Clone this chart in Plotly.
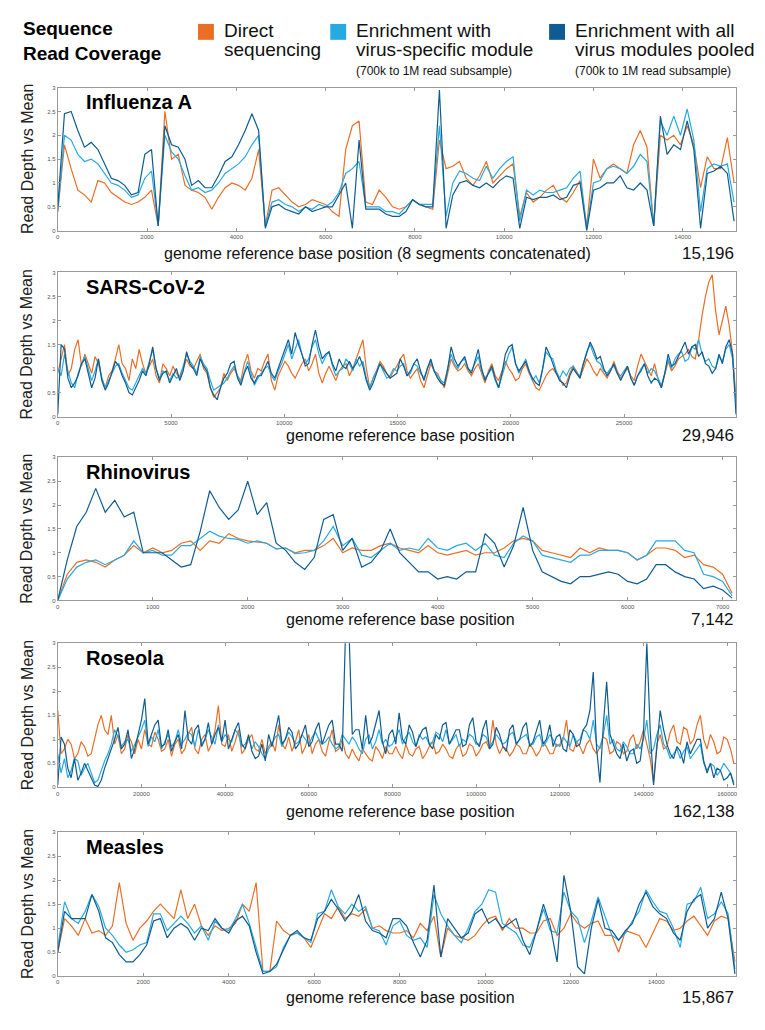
import numpy as np
import plotly.graph_objects as go

# colours of the three library preps
direct_color = "#EA6F26"
specific_color = "#27AAE1"
pooled_color = "#0E5C91"

# ---- Influenza A (8 segments concatenated), one value every 150 bp
flu_step = 150
flu_direct = [0.4, 1.8, 1.3, 0.85, 0.75, 0.6, 1.05, 1.0, 0.8, 0.7,
              0.6, 0.55, 0.6, 0.7, 0.85, 0.1, 2.5, 1.5, 1.6, 0.95,
              0.85, 0.8, 0.7, 0.45, 0.7, 0.9, 1.0, 0.95, 0.85, 1.1,
              1.7, 0.1, 0.85, 0.9, 0.75, 0.6, 0.5, 0.55, 0.65, 0.6,
              0.55, 0.4, 0.3, 1.7, 2.2, 2.3, 0.6, 0.55, 0.85, 0.7,
              0.5, 0.45, 0.5, 0.65, 0.55, 0.5, 0.45, 1.9, 1.3, 1.35,
              1.45, 1.1, 0.95, 1.15, 1.45, 1.0, 1.15, 1.3, 1.4, 0.3,
              0.8, 0.6, 0.7, 0.85, 0.95, 0.7, 0.6, 0.8, 1.05, 0.1,
              1.5, 1.1, 1.3, 1.4, 1.3, 1.2, 1.8, 2.1, 1.75, 0.1,
              2.0, 1.9, 2.0, 1.8, 2.2, 1.8, 0.9, 1.55, 1.3, 1.3,
              1.95, 1.0]
flu_specific = [0.4, 2.0, 1.9, 1.6, 1.45, 1.5, 1.4, 1.2, 1.0, 0.95,
                0.85, 0.7, 0.75, 1.1, 1.25, 0.1, 2.0, 1.65, 1.5, 1.15,
                0.85, 0.9, 0.8, 0.85, 1.0, 1.2, 1.3, 1.4, 1.55, 1.8,
                2.0, 0.1, 0.6, 0.65, 0.55, 0.5, 0.4, 0.5, 0.45, 0.55,
                0.5, 0.6, 0.8, 1.2, 1.3, 1.45, 0.5, 0.5, 0.5, 0.4,
                0.4, 0.35, 0.5, 0.65, 0.55, 0.55, 0.55, 2.2, 0.3, 1.0,
                1.25, 1.2, 1.1, 1.05, 1.35, 1.1, 1.3, 1.45, 1.55, 0.2,
                0.85, 0.75, 0.85, 0.8, 0.8, 0.85, 0.9, 1.1, 1.25, 0.05,
                1.0, 1.05, 1.3, 1.35, 1.3, 1.2, 1.35, 1.6, 1.45, 0.1,
                2.3, 2.0, 2.4, 2.0, 2.55, 1.9, 0.4, 1.3, 1.4, 1.35,
                1.4, 0.6]
flu_pooled = [0.5, 2.45, 2.5, 2.1, 1.75, 1.85, 1.7, 1.4, 1.1, 1.05,
              0.95, 0.75, 0.8, 1.6, 1.7, 0.1, 2.2, 1.8, 1.75, 1.5,
              0.95, 1.05, 0.9, 0.9, 1.15, 1.45, 1.55, 1.8, 2.1, 2.45,
              2.1, 0.05, 0.5, 0.55, 0.45, 0.4, 0.35, 0.5, 0.4, 0.45,
              0.5, 0.5, 0.75, 1.0, 0.05, 1.9, 0.45, 0.45, 0.45, 0.35,
              0.3, 0.3, 0.4, 0.65, 0.55, 0.5, 0.5, 2.95, 0.05, 0.75,
              1.0, 1.05, 0.95, 0.9, 1.0, 0.9, 1.05, 1.15, 1.1, 0.05,
              0.7, 0.65, 0.7, 0.7, 0.75, 0.65, 0.7, 0.95, 1.0, 0.0,
              0.85, 0.9, 1.0, 1.0, 1.15, 0.9, 0.85, 1.0, 0.85, 0.1,
              2.4, 1.6, 1.8, 1.7, 2.3, 1.7, 0.05, 1.2, 1.25, 1.35,
              1.2, 0.2]

# ---- SARS-CoV-2, one value every 149.7 bp
sars_step = 149.7
sars_direct = [0.9, 1.2, 1.5, 0.85, 1.0, 1.4, 1.6, 1.05, 1.3, 1.1, 0.9, 1.25, 1.1, 0.8, 0.6, 0.85, 0.95, 1.2, 1.5, 1.1,
               1.0, 0.75, 1.2, 1.0, 1.4, 1.1, 0.9, 1.05, 1.2, 0.85, 0.7, 1.1, 1.0, 0.85, 1.05, 0.9, 0.8, 1.0, 1.2, 1.05,
               1.0, 1.15, 1.3, 1.0, 0.9, 0.6, 0.4, 0.5, 0.6, 0.9, 0.75, 0.9, 1.0, 0.85, 0.75, 1.1, 1.3, 0.95, 0.8, 1.0,
               0.95, 1.15, 1.3, 0.75, 0.55, 0.85, 1.0, 1.15, 1.05, 0.9, 0.8, 0.95, 1.1, 1.2, 0.95, 1.1, 1.3, 0.9, 0.7, 0.9,
               1.05, 0.9, 0.75, 0.95, 1.05, 1.1, 0.85, 1.0, 1.2, 1.4, 1.6, 1.0, 0.6, 0.8, 0.95, 1.15, 1.05, 0.9, 0.8, 0.95,
               1.05, 1.2, 1.3, 0.95, 0.8, 0.9, 1.0, 0.75, 0.6, 0.85, 1.1, 0.95, 0.9, 0.75, 0.6, 0.9, 1.2, 1.05, 0.95, 1.0,
               1.1, 0.95, 0.85, 1.0, 1.1, 0.9, 0.7, 0.95, 1.1, 0.85, 0.75, 0.95, 1.15, 1.0, 0.9, 0.75, 0.8, 1.0, 1.1, 0.9,
               0.75, 0.6, 0.55, 0.7, 0.85, 0.95, 1.0, 0.9, 0.8, 0.65, 0.7, 0.9, 1.05, 0.95, 0.8, 1.0, 1.2, 1.1, 0.95, 0.85,
               1.0, 0.9, 0.8, 0.95, 1.15, 0.95, 0.8, 0.9, 1.0, 0.85, 0.75, 1.05, 1.3, 1.15, 1.0, 0.85, 1.1, 0.8, 0.6, 0.9,
               1.15, 0.95, 1.05, 1.2, 1.25, 1.3, 1.4, 1.25, 1.2, 1.6, 2.1, 2.5, 2.8, 2.95, 2.2, 1.7, 2.0, 2.3, 1.9, 1.3,
               0.4]
sars_specific = [1.0, 0.85, 1.3, 0.95, 0.7, 0.6, 0.9, 1.1, 1.25, 1.0, 0.75, 0.95, 1.2, 0.8, 0.6, 0.75, 0.9, 1.05, 1.1, 0.9,
                 0.75, 0.6, 0.55, 0.7, 0.85, 1.0, 0.9, 1.15, 1.4, 1.0, 0.8, 0.95, 0.9, 0.75, 0.9, 0.8, 0.85, 1.05, 1.3, 1.15,
                 1.05, 0.9, 1.25, 1.1, 1.0, 0.75, 0.55, 0.6, 0.65, 0.7, 0.8, 0.95, 1.05, 0.85, 0.7, 0.95, 1.15, 0.9, 0.65, 0.8,
                 0.9, 1.0, 1.05, 0.85, 0.75, 0.95, 1.1, 1.3, 1.5, 1.2, 1.4, 1.6, 1.3, 1.1, 1.2, 1.45, 1.6, 1.3, 1.1, 1.25,
                 1.35, 1.05, 0.85, 0.95, 1.0, 1.2, 1.1, 0.95, 1.2, 1.05, 1.15, 0.8, 0.6, 0.8, 0.95, 1.1, 0.95, 0.8, 0.85, 1.0,
                 0.95, 1.05, 1.1, 0.85, 0.9, 1.1, 1.05, 0.9, 0.8, 1.0, 1.15, 0.95, 0.85, 0.75, 0.7, 1.0, 1.3, 1.1, 1.0, 1.15,
                 1.2, 1.0, 0.95, 1.1, 1.25, 0.95, 0.8, 0.9, 1.0, 0.75, 0.6, 0.85, 1.1, 1.3, 1.45, 1.1, 0.9, 1.05, 1.2, 0.95,
                 0.75, 0.85, 0.7, 1.0, 1.35, 1.25, 1.2, 0.95, 0.8, 0.95, 0.85, 1.0, 1.05, 0.9, 0.85, 1.1, 1.35, 1.5, 1.3, 1.15,
                 1.1, 0.95, 0.9, 1.0, 1.05, 0.9, 0.85, 0.95, 1.05, 0.8, 0.65, 0.85, 1.0, 1.1, 0.9, 1.0, 0.95, 0.8, 0.65, 0.9,
                 1.2, 1.0, 1.2, 1.3, 1.35, 1.15, 1.2, 1.45, 1.4, 1.6, 1.3, 1.15, 1.2, 1.05, 1.0, 1.25, 1.15, 1.4, 1.5, 1.2,
                 0.3]
sars_pooled = [0.05, 1.5, 1.4, 0.8, 0.6, 0.7, 0.85, 1.1, 1.2, 0.9, 0.6, 0.8, 1.2, 0.75, 0.55, 0.7, 0.95, 1.15, 1.05, 0.85,
               0.7, 0.5, 0.45, 0.6, 0.75, 0.95, 0.85, 1.1, 1.45, 1.0, 0.75, 0.9, 0.95, 0.7, 0.85, 1.0, 0.75, 0.95, 1.35, 1.1,
               1.0, 0.85, 1.2, 1.05, 0.95, 0.6, 0.45, 0.35, 0.6, 0.8, 0.9, 1.1, 1.15, 0.8, 0.65, 0.9, 1.05, 0.8, 0.7, 0.85,
               0.85, 1.0, 1.15, 0.9, 0.8, 1.0, 1.2, 1.4, 1.6, 1.3, 1.75, 1.5, 1.3, 1.05, 1.1, 1.5, 1.8, 1.45, 1.2, 1.3,
               1.35, 1.1, 0.95, 1.2, 1.05, 1.0, 1.15, 1.0, 1.1, 1.25, 1.05, 0.75, 0.55, 0.7, 0.9, 1.1, 1.0, 0.9, 0.8, 0.85,
               0.9, 1.2, 1.05, 0.85, 0.95, 1.1, 1.2, 0.95, 0.75, 1.0, 1.2, 0.95, 0.8, 0.7, 0.65, 1.0, 1.45, 1.2, 1.05, 1.15,
               1.25, 1.0, 0.9, 1.15, 1.4, 1.0, 0.75, 0.9, 1.05, 0.8, 0.6, 0.9, 1.3, 1.45, 1.5, 1.1, 0.95, 1.05, 1.15, 0.95,
               0.8, 0.7, 0.65, 1.0, 1.45, 1.3, 1.1, 0.9, 0.75, 0.7, 0.6, 0.85, 1.0, 0.9, 0.8, 1.1, 1.35, 1.55, 1.4, 1.2,
               1.25, 1.0, 0.85, 0.95, 1.1, 0.9, 0.75, 0.9, 1.05, 0.8, 0.65, 0.85, 0.95, 1.1, 0.85, 0.7, 0.8, 0.75, 0.6, 0.9,
               1.3, 1.05, 1.1, 1.25, 1.4, 1.55, 1.3, 1.45, 1.5, 1.25, 1.35, 1.1, 1.05, 0.9, 1.0, 1.3, 1.1, 1.45, 1.6, 1.3,
               0.05]

# ---- Rhinovirus, one value every 100 bp
rhino_step = 100
rhino_direct = [0.0, 0.55, 0.8, 0.85, 0.8, 0.7, 0.85, 0.95, 1.15, 1.0,
                1.1, 1.0, 1.05, 1.2, 1.25, 1.05, 1.25, 1.2, 1.4, 1.3,
                1.25, 1.22, 1.2, 1.08, 1.1, 1.0, 1.05, 1.05, 1.15, 1.3,
                1.0, 1.1, 1.05, 1.05, 1.15, 1.2, 1.1, 1.05, 1.0, 1.15,
                1.0, 0.95, 1.0, 1.05, 0.95, 1.0, 1.0, 1.1, 1.25, 1.3,
                1.25, 1.05, 1.0, 0.95, 0.9, 1.1, 1.0, 1.1, 1.05, 1.05,
                1.0, 0.85, 0.95, 1.1, 1.1, 1.05, 0.9, 0.95, 0.75, 0.7,
                0.55, 0.15]
rhino_specific = [0.0, 0.45, 0.7, 0.8, 0.85, 0.75, 0.85, 0.95, 1.25, 1.0,
                  1.05, 0.95, 0.95, 1.15, 1.15, 1.3, 1.45, 1.35, 1.3, 1.28,
                  1.2, 1.25, 1.2, 1.08, 1.1, 0.98, 1.0, 1.05, 1.25, 1.55,
                  1.15, 1.3, 0.95, 0.9, 1.05, 1.2, 1.05, 1.1, 1.05, 1.3,
                  1.1, 1.05, 1.15, 1.2, 1.05, 1.2, 0.95, 0.9, 1.2, 1.35,
                  1.25, 0.95, 0.9, 0.85, 0.8, 0.95, 0.95, 1.05, 1.05, 1.05,
                  1.0, 0.85, 0.95, 1.25, 1.25, 1.25, 1.05, 1.0, 0.55, 0.5,
                  0.4, 0.1]
rhino_pooled = [0.0, 0.85, 1.55, 1.85, 2.35, 1.85, 2.1, 1.75, 1.85, 1.0,
                1.0, 1.0, 0.85, 0.7, 0.75, 1.45, 2.3, 1.95, 1.7, 1.9,
                2.5, 1.8, 2.05, 1.2, 1.05, 0.8, 0.65, 0.9, 1.7, 1.8,
                1.05, 1.3, 0.7, 0.8, 1.05, 1.5, 1.0, 0.8, 0.6, 0.6,
                0.45, 0.5, 0.45, 0.6, 0.6, 1.4, 1.2, 0.7, 1.15, 1.95,
                1.05, 0.6, 0.5, 0.4, 0.35, 0.5, 0.5, 0.55, 0.6, 0.55,
                0.4, 0.35, 0.45, 0.75, 0.75, 0.6, 0.5, 0.45, 0.25, 0.3,
                0.22, 0.05]

# ---- Roseola (HHV-6), one value every 800 bp
roseola_step = 800
roseola_direct = [1.6, 0.7, 0.8, 1.0, 0.9, 0.6, 0.7, 0.95, 0.85, 0.65, 0.7, 1.0, 1.3, 1.5, 1.2, 1.1, 1.5, 0.9, 1.1, 0.7,
                  0.8, 1.1, 0.95, 0.7, 1.0, 0.8, 1.2, 0.9, 0.85, 1.15, 1.0, 0.75, 0.8, 1.0, 0.65, 0.9, 1.0, 0.7, 0.8, 1.1,
                  1.25, 0.8, 0.7, 1.0, 1.1, 0.75, 0.9, 1.2, 1.7, 0.9, 0.85, 1.1, 0.75, 0.95, 1.2, 0.7, 0.8, 1.0, 1.1, 0.8,
                  0.75, 1.0, 0.7, 0.85, 0.95, 0.75, 1.3, 0.9, 0.8, 1.05, 0.75, 0.95, 1.2, 0.7, 0.85, 1.1, 0.7, 0.9, 1.0, 0.75,
                  0.65, 0.95, 1.2, 0.75, 0.8, 1.0, 0.7, 0.6, 0.8, 0.65, 0.55, 0.8, 0.7, 0.6, 0.55, 0.85, 0.75, 0.6, 0.85, 0.7,
                  0.7, 0.85, 0.7, 0.6, 0.9, 0.7, 0.65, 0.8, 0.85, 0.6, 0.7, 0.85, 0.95, 0.7, 0.75, 0.9, 0.8, 0.65, 0.6, 0.8,
                  0.9, 0.65, 0.7, 0.9, 0.85, 0.65, 0.75, 0.9, 0.95, 0.8, 1.4, 0.9, 0.7, 0.85, 0.8, 0.65, 0.75, 0.9, 0.85, 0.7,
                  0.7, 0.9, 0.8, 0.65, 0.75, 0.95, 0.85, 0.7, 0.7, 0.9, 0.85, 1.0, 1.4, 0.8, 0.75, 0.95, 0.85, 0.7, 0.9, 1.0,
                  0.8, 0.7, 0.85, 1.05, 1.0, 0.7, 0.75, 0.95, 0.9, 0.7, 0.75, 1.0, 1.1, 0.8, 0.95, 1.2, 0.9, 0.6, 0.1, 0.9,
                  1.1, 0.8, 0.85, 1.15, 1.3, 0.95, 0.9, 1.25, 1.2, 0.9, 1.0, 1.3, 1.5, 1.0, 0.8, 1.1, 0.95, 0.7, 0.75, 1.05,
                  1.0, 0.8, 0.5]
roseola_specific = [0.7, 0.3, 0.6, 0.2, 0.35, 0.6, 0.55, 0.25, 0.4, 0.5, 0.3, 0.1, 0.15, 0.35, 0.55, 0.7, 0.9, 1.2, 1.05, 0.85,
                    0.95, 1.0, 0.75, 0.9, 1.05, 1.2, 1.4, 0.85, 1.05, 0.95, 1.2, 0.8, 0.95, 1.1, 0.85, 0.95, 1.2, 0.9, 1.0, 1.15,
                    1.1, 0.85, 1.2, 0.9, 1.0, 1.2, 1.05, 0.9, 1.3, 0.95, 1.1, 1.0, 0.95, 1.2, 1.1, 0.85, 0.9, 1.05, 0.8, 0.95,
                    0.85, 0.7, 0.6, 0.8, 0.9, 1.05, 1.1, 0.85, 1.0, 1.15, 1.05, 0.9, 0.95, 1.1, 1.0, 0.9, 1.05, 1.15, 1.0, 0.9,
                    0.95, 1.05, 0.9, 0.8, 0.85, 1.1, 1.0, 0.9, 1.05, 0.95, 0.8, 0.7, 1.0, 1.1, 0.8, 0.95, 1.2, 0.9, 1.0, 0.85,
                    0.9, 1.05, 1.2, 0.9, 1.05, 1.15, 0.95, 0.85, 1.1, 1.0, 1.05, 0.9, 0.95, 1.15, 1.1, 0.95, 1.2, 0.9, 1.0, 1.1,
                    0.85, 1.0, 0.95, 1.1, 1.05, 0.9, 0.9, 1.1, 1.05, 0.85, 0.95, 1.1, 1.0, 0.9, 0.95, 1.1, 1.15, 0.9, 1.0, 1.05,
                    1.1, 0.9, 0.9, 1.05, 1.1, 0.85, 0.95, 1.1, 1.0, 0.85, 0.9, 1.05, 0.95, 0.85, 1.1, 0.95, 1.0, 1.2, 1.15, 1.0,
                    1.4, 0.9, 0.8, 1.1, 1.5, 0.9, 1.0, 0.8, 0.75, 0.95, 0.85, 0.7, 0.7, 0.9, 0.8, 1.0, 1.4, 0.7, 0.8, 1.1,
                    1.3, 0.9, 0.8, 0.6, 0.7, 0.8, 0.6, 0.75, 0.85, 0.6, 0.7, 0.8, 0.9, 0.5, 0.35, 0.5, 0.45, 0.25, 0.35, 0.5,
                    0.4, 0.3, 0.1]
roseola_pooled = [0.05, 1.05, 0.9, 0.4, 0.2, 0.6, 0.15, 0.3, 0.5, 0.35, 0.2, 0.05, 0.02, 0.15, 0.4, 0.6, 0.8, 1.0, 1.25, 0.8,
                  0.9, 1.2, 0.6, 0.8, 1.1, 1.4, 1.85, 0.9, 1.1, 1.3, 1.4, 0.85, 0.9, 1.2, 0.75, 0.95, 1.1, 0.8, 1.6, 1.0,
                  0.9, 1.2, 1.3, 0.85, 1.0, 1.35, 0.9, 1.1, 1.25, 0.95, 1.4, 0.8, 1.0, 1.2, 1.35, 0.9, 0.8, 1.1, 0.75, 0.6,
                  0.65, 0.9, 0.55, 1.1, 0.85, 1.2, 1.5, 0.9, 1.0, 1.25, 1.15, 0.8, 0.9, 1.1, 1.3, 0.85, 0.95, 1.2, 1.35, 0.9,
                  1.1, 1.3, 1.4, 0.9, 0.9, 0.75, 3.3, 3.3, 1.1, 1.2, 1.2, 0.8, 1.5, 0.9, 1.05, 1.3, 1.6, 0.95, 0.7, 1.1,
                  1.2, 0.9, 1.55, 1.0, 0.9, 1.3, 1.15, 0.85, 1.05, 1.2, 1.25, 0.9, 0.8, 1.1, 1.0, 1.3, 1.35, 0.9, 1.05, 1.2,
                  1.2, 0.85, 0.9, 1.3, 1.45, 0.95, 0.85, 1.2, 1.4, 0.8, 0.9, 1.25, 1.1, 0.85, 0.75, 1.2, 1.3, 0.9, 1.0, 1.25,
                  1.35, 0.85, 0.95, 1.2, 1.4, 0.9, 1.0, 1.3, 0.85, 1.05, 1.1, 0.8, 0.75, 1.2, 1.1, 0.85, 0.9, 1.2, 1.3, 1.6,
                  2.4, 0.8, 0.1, 1.3, 2.2, 1.1, 0.9, 0.7, 0.6, 0.9, 0.55, 0.75, 0.8, 0.5, 0.55, 1.1, 3.0, 1.2, 0.05, 0.9,
                  1.6, 1.2, 0.9, 0.7, 0.6, 0.85, 0.75, 0.5, 0.95, 0.7, 0.85, 1.0, 1.0, 0.55, 0.3, 0.5, 0.2, 0.4, 0.35, 0.15,
                  0.2, 0.3, 0.05]

# ---- Measles, one value every 160 bp
measles_step = 160
measles_direct = [0.5, 1.2, 1.05, 0.85, 1.2, 0.9, 0.95, 0.85, 1.05, 1.95,
                  1.1, 0.75, 1.0, 1.15, 1.35, 1.5, 1.35, 1.2, 1.8, 1.2,
                  1.5, 1.05, 0.85, 1.05, 0.95, 1.0, 1.1, 1.5, 1.35, 1.95,
                  0.1, 0.1, 1.15, 0.95, 0.85, 0.9, 0.8, 0.6, 0.95, 1.3,
                  1.2, 1.45, 1.2, 1.3, 1.25, 1.4, 1.0, 1.05, 0.95, 0.9,
                  0.9, 0.95, 0.8, 1.1, 0.95, 1.25, 0.4, 1.0, 0.85, 0.8,
                  0.75, 0.85, 1.05, 1.2, 1.25, 0.95, 1.2, 1.0, 1.0, 0.9,
                  0.9, 1.15, 1.2, 0.85, 1.0, 1.3, 1.1, 1.0, 1.1, 1.15,
                  0.85, 0.85, 0.5, 0.95, 0.9, 0.85, 0.6, 0.9, 1.2, 1.15,
                  0.95, 1.0, 1.15, 1.25, 1.05, 0.85, 1.15, 1.25, 1.2, 0.3]
measles_specific = [0.6, 1.55, 1.2, 1.1, 1.35, 1.7, 1.45, 1.0, 0.85, 0.65,
                    0.5, 0.55, 0.65, 0.7, 1.3, 1.3, 0.95, 1.1, 1.25, 1.1,
                    0.9, 1.05, 0.75, 1.15, 1.0, 0.95, 1.2, 1.5, 1.1, 0.6,
                    0.1, 0.1, 0.2, 0.6, 0.85, 0.9, 0.8, 0.7, 1.3, 1.35,
                    1.8, 1.45, 1.3, 1.5, 1.35, 1.45, 1.0, 0.95, 0.65, 1.05,
                    1.15, 0.85, 0.75, 0.8, 0.6, 1.7, 1.3, 1.05, 0.85, 0.7,
                    1.0, 1.35, 1.5, 1.8, 1.75, 1.1, 1.0, 0.9, 0.65, 0.6,
                    0.95, 1.4, 0.95, 0.9, 1.75, 1.35, 1.2, 0.7, 1.15, 1.65,
                    1.25, 0.85, 0.75, 0.9, 1.15, 1.35, 1.8, 1.55, 1.35, 1.3,
                    1.0, 0.6, 1.5, 1.55, 1.85, 1.2, 1.3, 1.55, 1.3, 0.15]
measles_pooled = [0.5, 1.35, 1.2, 1.2, 1.2, 1.7, 1.35, 0.8, 0.7, 0.45,
                  0.3, 0.3, 0.45, 0.65, 1.15, 1.2, 0.8, 1.0, 1.1, 1.0,
                  0.75, 1.0, 0.95, 1.2, 1.0, 0.9, 1.15, 1.25, 1.05, 0.5,
                  0.05, 0.1, 0.25, 0.55, 0.85, 0.95, 0.8, 0.75, 1.2, 1.35,
                  1.6, 1.4, 1.15, 1.35, 1.7, 1.15, 0.95, 0.9, 0.8, 1.2,
                  1.2, 1.05, 0.7, 0.4, 0.75, 1.9, 0.4, 1.2, 1.0, 0.8,
                  0.9, 1.3, 1.4, 1.1, 1.2, 1.0, 1.1, 1.2, 0.75, 0.45,
                  0.95, 1.5, 1.05, 0.3, 2.1, 1.35, 0.2, 0.05, 1.0, 1.6,
                  1.0, 0.95, 0.75, 0.95, 1.1, 1.5, 1.75, 1.45, 1.3, 1.2,
                  0.9, 0.75, 1.35, 1.6, 1.7, 1.0, 1.2, 1.75, 1.2, 0.05]

y_ticks = [0, 0.5, 1, 1.5, 2, 2.5, 3]
y_tick_text = ["0", "0.5", "1", "1.5", "2", "2.5", "3"]

# name, step, direct, specific, pooled, genome length, x tick spacing, x label
panels = [
    ("Influenza A", flu_step, flu_direct, flu_specific, flu_pooled, 15196, 2000,
     "genome reference base position (8 segments concatenated)"),
    ("SARS-CoV-2", sars_step, sars_direct, sars_specific, sars_pooled, 29946, 5000,
     "genome reference base position"),
    ("Rhinovirus", rhino_step, rhino_direct, rhino_specific, rhino_pooled, 7142, 1000,
     "genome reference base position"),
    ("Roseola", roseola_step, roseola_direct, roseola_specific, roseola_pooled, 162138, 20000,
     "genome reference base position"),
    ("Measles", measles_step, measles_direct, measles_specific, measles_pooled, 15867, 2000,
     "genome reference base position"),
]

# the page body keeps its default 8px margin, so the figure is 16px smaller
# and page pixel positions are shifted by 8
PAD = 8
W, H = 765 - 2 * PAD, 1030 - 2 * PAD


def px(x):
    return (x - PAD) / W


def py(y):
    return 1 - (y - PAD) / H


plot_left, plot_right = 56, 738
# top / bottom page rows of each panel, and the row of its label line
panel_rows = [(85, 229, 252), (271, 416, 435), (457, 601, 620), (644, 789, 813), (834, 979, 1000)]

fig = go.Figure()
annotations = []
shapes = []
label_font = "Liberation Sans, Arial, sans-serif"
axis_style = dict(ticks="inside", ticklen=3, tickcolor="#999", showline=True, linecolor="#999",
                  linewidth=1, mirror="ticks", showgrid=False, zeroline=False,
                  tickfont=dict(size=6, color="#555", family=label_font))

for i, (name, step, direct, specific, pooled, length, tick_step, xlabel) in enumerate(panels):
    n = i + 1
    xa = "x" if n == 1 else "x%d" % n
    ya = "y" if n == 1 else "y%d" % n
    for vals, col in [(direct, direct_color), (specific, specific_color), (pooled, pooled_color)]:
        xs = np.arange(len(vals)) * step
        fig.add_trace(go.Scatter(x=xs, y=vals, mode="lines", xaxis=xa, yaxis=ya,
                                 line=dict(color=col, width=1.2), showlegend=False,
                                 hoverinfo="skip"))
    top, bottom, label_row = panel_rows[i]
    fig.layout["xaxis" if n == 1 else "xaxis%d" % n] = dict(
        domain=[px(plot_left), px(plot_right)], anchor=ya, range=[0, length],
        tickvals=list(range(0, length, tick_step)), tickformat="d", **axis_style)
    fig.layout["yaxis" if n == 1 else "yaxis%d" % n] = dict(
        domain=[py(bottom), py(top)], anchor=xa, range=[0, 3],
        tickvals=y_ticks, ticktext=y_tick_text, **axis_style)

    annotations.append(dict(text="<b>%s</b>" % name, x=px(82), y=py(top + 15),
                            xanchor="left", yanchor="middle",
                            font=dict(size=20, color="#000", family=label_font)))
    annotations.append(dict(text="Read Depth vs Mean", x=px(25), y=py((top + bottom) / 2),
                            xanchor="center", yanchor="middle", textangle=-90,
                            font=dict(size=16, color="#222", family=label_font)))
    annotations.append(dict(text=xlabel, x=px(377 if n == 1 else 401), y=py(label_row),
                            xanchor="center", yanchor="middle",
                            font=dict(size=16, color="#111", family=label_font)))
    annotations.append(dict(text="{:,}".format(length), x=px(plot_right), y=py(label_row),
                            xanchor="right", yanchor="middle",
                            font=dict(size=17, color="#111", family=label_font)))

# header: title and hand-made legend
annotations.append(dict(text="<b>Sequence<br>Read Coverage</b>", x=px(19), y=py(38),
                        xanchor="left", yanchor="middle", align="left",
                        font=dict(size=19, color="#000", family=label_font)))
legend_items = [
    (197, direct_color, "Direct", "sequencing", None),
    (330, specific_color, "Enrichment with", "virus-specific module", "(700k to 1M read subsample)"),
    (550, pooled_color, "Enrichment with all", "virus modules pooled", "(700k to 1M read subsample)"),
]
for x0, col, line1, line2, sub in legend_items:
    shapes.append(dict(type="rect", xref="paper", yref="paper", x0=px(x0), x1=px(x0 + 16),
                       y0=py(37), y1=py(21), fillcolor=col, line=dict(width=0)))
    for text, row in [(line1, 28), (line2, 47)]:
        annotations.append(dict(text=text, x=px(x0 + 24), y=py(row), xanchor="left", yanchor="middle",
                                font=dict(size=19, color="#111", family=label_font)))
    if sub:
        annotations.append(dict(text=sub, x=px(x0 + 24), y=py(68), xanchor="left", yanchor="middle",
                                font=dict(size=12, color="#111", family=label_font)))

for a in annotations:
    a.update(xref="paper", yref="paper", showarrow=False)

fig.update_layout(width=W, height=H, margin=dict(l=0, r=0, t=0, b=0),
                  paper_bgcolor="white", plot_bgcolor="white",
                  annotations=annotations, shapes=shapes)

fig.write_html("out.html")
